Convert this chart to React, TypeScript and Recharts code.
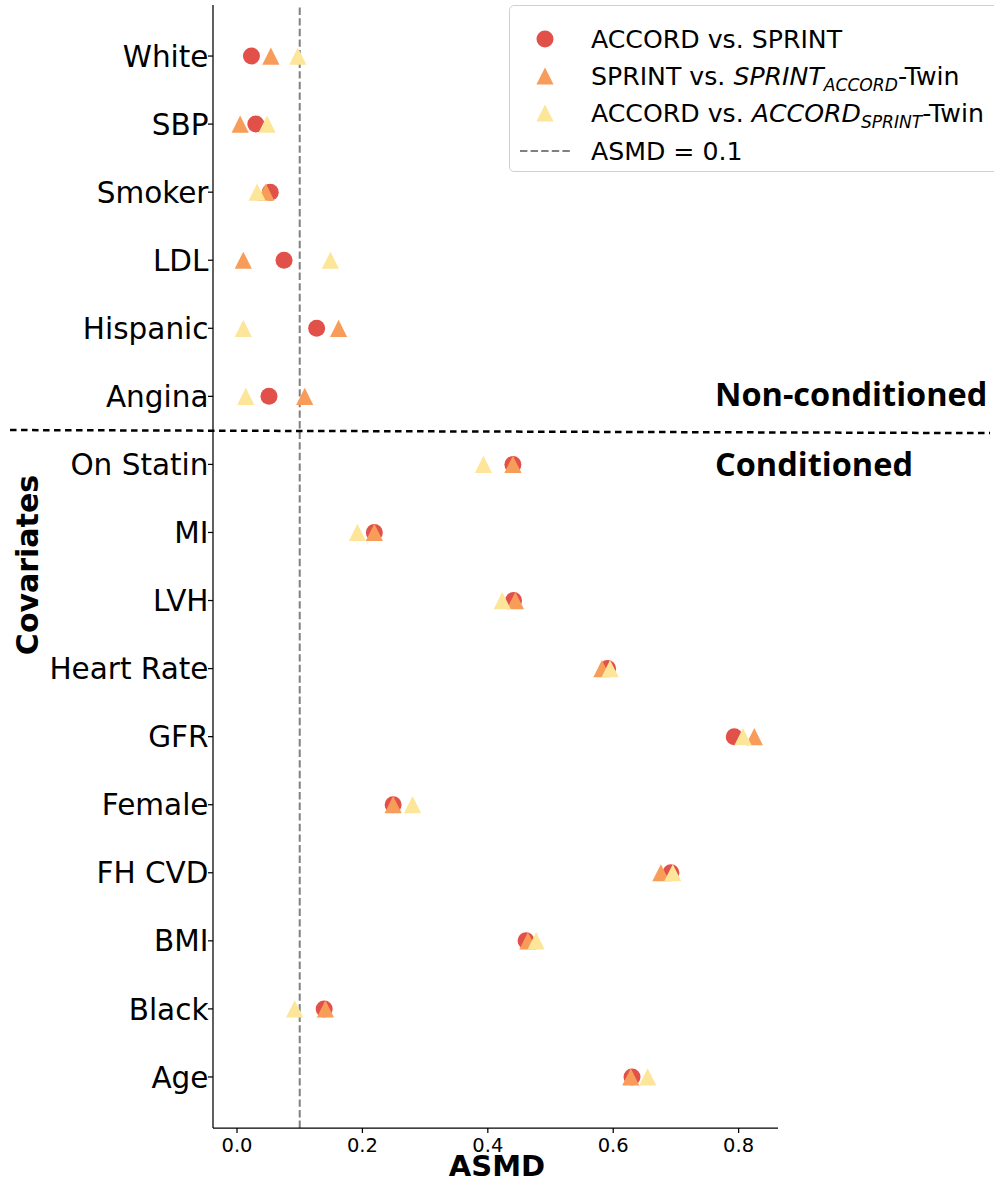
import React from 'react';
import { ComposedChart, Scatter, XAxis, YAxis, ReferenceLine } from 'recharts';

const categories = ['White', 'SBP', 'Smoker', 'LDL', 'Hispanic', 'Angina', 'On Statin', 'MI', 'LVH', 'Heart Rate', 'GFR', 'Female', 'FH CVD', 'BMI', 'Black', 'Age'];
const accordVsSprint = [0.023, 0.030, 0.053, 0.075, 0.127, 0.051, 0.440, 0.219, 0.441, 0.591, 0.793, 0.249, 0.692, 0.461, 0.139, 0.630];
const sprintVsTwin = [0.054, 0.005, 0.046, 0.010, 0.162, 0.108, 0.440, 0.219, 0.444, 0.582, 0.825, 0.249, 0.676, 0.464, 0.141, 0.628];
const accordVsTwin = [0.097, 0.048, 0.032, 0.149, 0.010, 0.014, 0.393, 0.192, 0.423, 0.595, 0.807, 0.280, 0.695, 0.477, 0.092, 0.655];
const xTicks = [0, 0.2, 0.4, 0.6, 0.8];
const threshold = 0.1;

const RED = '#E2504A';
const ORANGE = '#F89D59';
const YELLOW = '#FDE699';

const toPoints = (vals: number[]) => vals.map((v, i) => ({ x: v, y: i, name: categories[i] }));
const dataA = toPoints(accordVsSprint);
const dataB = toPoints(sprintVsTwin);
const dataC = toPoints(accordVsTwin);

const Circle = (props: any) => {
  const { cx, cy, fill } = props;
  if (cx == null || cy == null) return null;
  return <circle cx={cx} cy={cy} r={8.5} fill={fill} />;
};

const Tri = (props: any) => {
  const { cx, cy, fill } = props;
  if (cx == null || cy == null) return null;
  const s = 8.6;
  return <polygon points={`${cx},${cy - s} ${cx - s},${cy + s} ${cx + s},${cy + s}`} fill={fill} />;
};

const FONT = '"DejaVu Sans", sans-serif';

const YTick = (props: any) => {
  const { x, y, payload } = props;
  return (
    <text x={x + 1.5} y={y} dy="0.36em" textAnchor="end" fontFamily={FONT} fontSize={29.5} fill="#000">
      {categories[payload.value]}
    </text>
  );
};

const XTick = (props: any) => {
  const { x, y, payload } = props;
  return (
    <text x={x} y={y} dy="0.76em" textAnchor="middle" fontFamily={FONT} fontSize={19.5} fill="#000">
      {payload.value.toFixed(1)}
    </text>
  );
};

const legendRow = (marker: React.ReactNode, label: React.ReactNode, top: number) => (
  <div style={{ position: 'absolute', left: 0, top, height: 36, width: 520, display: 'flex', alignItems: 'center' }}>
    <svg width={80} height={36} style={{ flex: 'none' }}>{marker}</svg>
    <span style={{ fontFamily: FONT, fontSize: 25.2, color: '#000', whiteSpace: 'nowrap', marginLeft: 1 }}>{label}</span>
  </div>
);

const subStyle: React.CSSProperties = { fontSize: '0.68em', verticalAlign: '-0.35em', lineHeight: 0 };

export default function App() {
  return (
    <div style={{ position: 'absolute', left: 0, top: 0, width: 994, height: 1180, background: '#fff', overflow: 'hidden' }}>
      <ComposedChart width={994} height={1180} margin={{ top: 5, right: 216, bottom: 0, left: 0 }}>
        <XAxis
          type="number"
          dataKey="x"
          domain={[-0.0383, 0.8628]}
          ticks={xTicks}
          allowDataOverflow
          height={52}
          tickSize={5}
          tickMargin={4}
          tick={<XTick />}
          stroke="#000"
          strokeWidth={1.25}
          tickLine={{ stroke: '#000', strokeWidth: 1.25 }}
        />
        <YAxis
          type="number"
          dataKey="y"
          domain={[-0.75, 15.75]}
          reversed
          ticks={categories.map((_, i) => i)}
          interval={0}
          allowDataOverflow
          width={213}
          tickSize={5}
          tickMargin={1}
          tick={<YTick />}
          stroke="#000"
          strokeWidth={1.25}
          tickLine={{ stroke: '#000', strokeWidth: 1.25 }}
        />
        <ReferenceLine x={threshold} stroke="#808080" strokeWidth={2} strokeDasharray="7.4 3.2" />
        <ReferenceLine
          segment={[{ x: -0.362, y: 5.495 }, { x: 1.201, y: 5.54 }]}
          ifOverflow="visible"
          stroke="#000"
          strokeWidth={2.5}
          strokeDasharray="6.5 4.5"
        />
        <Scatter name="ACCORD vs. SPRINT" data={dataA} fill={RED} shape={<Circle />} isAnimationActive={false} />
        <Scatter name="SPRINT vs. SPRINT_ACCORD-Twin" data={dataB} fill={ORANGE} shape={<Tri />} isAnimationActive={false} />
        <Scatter name="ACCORD vs. ACCORD_SPRINT-Twin" data={dataC} fill={YELLOW} shape={<Tri />} isAnimationActive={false} />
      </ComposedChart>

      <svg width={994} height={1180} style={{ position: 'absolute', left: 0, top: 0, pointerEvents: 'none' }}>
        <text x={715} y={406} fontFamily='"Open Sans", sans-serif' fontWeight={700} fontSize={32.5} fill="#000">Non-conditioned</text>
        <text x={715} y={476} fontFamily='"Open Sans", sans-serif' fontWeight={700} fontSize={32.5} fill="#000">Conditioned</text>
        <text x={497} y={1176} textAnchor="middle" fontFamily={FONT} fontWeight={700} fontSize={29} fill="#000">ASMD</text>
        <text x={38} y={565} transform="rotate(-90 38 565)" textAnchor="middle" fontFamily={FONT} fontWeight={700} fontSize={30} fill="#000">Covariates</text>
      </svg>

      <div style={{ position: 'absolute', left: 509, top: 5, width: 500, height: 167, border: '1.3px solid #d0d0d0', borderRadius: 5, background: 'rgba(255,255,255,0.85)', boxSizing: 'border-box' }}>
        {legendRow(<circle cx={35} cy={18} r={8.5} fill={RED} />, 'ACCORD vs. SPRINT', 15)}
        {legendRow(<polygon points="35,9.4 26.4,26.6 43.6,26.6" fill={ORANGE} />, <span>SPRINT vs. <i>SPRINT<span style={subStyle}>ACCORD</span></i>-Twin</span>, 52)}
        {legendRow(<polygon points="35,9.4 26.4,26.6 43.6,26.6" fill={YELLOW} />, <span>ACCORD vs. <i>ACCORD<span style={subStyle}>SPRINT</span></i>-Twin</span>, 89)}
        {legendRow(<line x1={10} y1={18} x2={60} y2={18} stroke="#808080" strokeWidth={2} strokeDasharray="7.4 3.2" />, 'ASMD = 0.1', 127)}
      </div>
    </div>
  );
}
